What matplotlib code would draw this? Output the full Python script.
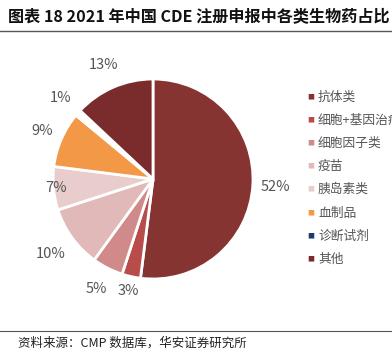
import math
import matplotlib
matplotlib.use("Agg")
import matplotlib.pyplot as plt
from matplotlib.lines import Line2D

plt.rcParams['font.family'] = ['Noto Sans CJK SC', 'DejaVu Sans']

labels = ["抗体类", "细胞+基因治疗", "细胞因子类", "疫苗", "胰岛素类", "血制品", "诊断试剂", "其他"]
shares = [52, 3, 5, 10, 7, 9, 1, 13]
colors = ["#863431", "#B84C4A", "#D08A89", "#E0B9B8", "#E9CDCD", "#F39846", "#1F3B6E", "#7A2B2B"]
# how far out each percent label sits (in radii)
label_dist = [1.23, 1.15, 1.24, 1.27, 0.97, 1.21, 1.23, 1.24]

W, H = 392, 353
fig = plt.figure(figsize=(W / 100, H / 100), dpi=100)

# title and rules
fig.text(8 / W, 1 - 16 / H, "图表 18 2021 年中国 CDE 注册申报中各类生物药占比",
         fontsize=11.6, fontweight="bold", va="center", ha="left", color="#111111")
fig.add_artist(Line2D([0, 1], [1 - 31 / H, 1 - 31 / H], color="#555555", lw=1))
fig.add_artist(Line2D([0, 1], [1 - 331 / H, 1 - 331 / H], color="#555555", lw=0.8))
fig.text(18 / W, 1 - 343 / H, "资料来源：CMP 数据库，华安证券研究所",
         fontsize=9, va="center", ha="left", color="#222222")

cx, cy, r = 153, 179, 100
ax = fig.add_axes([(cx - r) / W, (H - cy - r) / H, 2 * r / W, 2 * r / H])

wedges, texts, autotexts = ax.pie(
    shares, colors=colors, startangle=90, counterclock=False, radius=1,
    autopct="%d%%", pctdistance=1.22,
    wedgeprops=dict(edgecolor="white", linewidth=2),
    textprops=dict(color="#555555", fontsize=10.5))
ax.set_xlim(-1, 1)
ax.set_ylim(-1, 1)
ax.axis("off")

# the tiny diagnostic slice is lost in the white gap in the original
wedges[6].set_facecolor("white")

for w, t, d in zip(wedges, autotexts, label_dist):
    ang = math.radians((w.theta1 + w.theta2) / 2)
    t.set_position((d * math.cos(ang), d * math.sin(ang)))
    t.set_clip_on(False)

# legend
y0, dy = 97, 23.2
for i, (lab, c) in enumerate(zip(labels, colors)):
    y = 1 - (y0 + i * dy) / H
    fig.text(311 / W, y, "■", fontsize=5, color=c, va="center", ha="center")
    fig.text(318 / W, y, lab, fontsize=9.2, color="#555555", va="center", ha="left")

fig.savefig("out.png", dpi=100)
